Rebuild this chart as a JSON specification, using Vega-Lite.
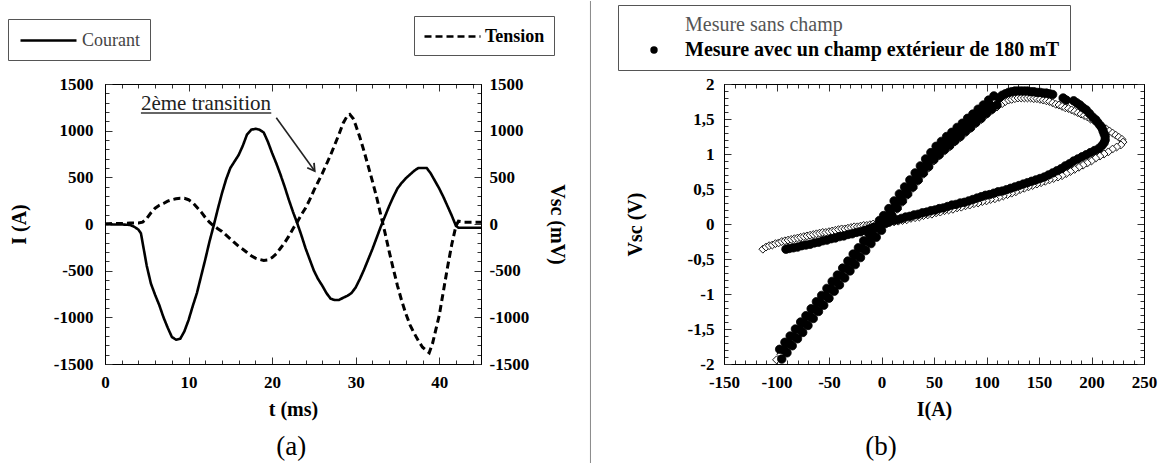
{
"$schema":"https://vega.github.io/schema/vega-lite/v6.json",
"background":"white",
"padding":{"left":7,"top":0,"right":0,"bottom":0},
"config":{
 "font":"Liberation Serif",
 "view":{"stroke":"black","strokeWidth":1},
 "axis":{"labelFont":"Liberation Serif","labelFontSize":17,"labelFontWeight":"bold","labelColor":"black","titleFont":"Liberation Serif","titleFontSize":20,"titleFontWeight":"bold","titleColor":"black","domainColor":"black","tickColor":"#333","grid":false,"labelOverlap":false,"labelFlush":false,"labelBound":false}
},
"datasets":{
 "courant":[{"t":0,"I":0},{"t":1,"I":-5},{"t":2,"I":-5},{"t":3,"I":-10},{"t":3.5,"I":-30},{"t":4,"I":-60},{"t":4.3,"I":-100},{"t":4.6,"I":-250},{"t":5,"I":-450},{"t":5.5,"I":-640},{"t":6,"I":-760},{"t":6.5,"I":-870},{"t":7,"I":-1000},{"t":7.5,"I":-1110},{"t":8,"I":-1210},{"t":8.5,"I":-1240},{"t":9,"I":-1230},{"t":9.5,"I":-1150},{"t":10,"I":-1030},{"t":10.5,"I":-880},{"t":11,"I":-740},{"t":11.5,"I":-560},{"t":12,"I":-380},{"t":12.5,"I":-190},{"t":13,"I":-20},{"t":13.5,"I":160},{"t":14,"I":330},{"t":14.5,"I":480},{"t":15,"I":600},{"t":15.5,"I":670},{"t":16,"I":740},{"t":16.5,"I":840},{"t":17,"I":960},{"t":17.5,"I":1010},{"t":18,"I":1020},{"t":18.5,"I":1010},{"t":19,"I":980},{"t":19.5,"I":880},{"t":20,"I":760},{"t":20.5,"I":650},{"t":21,"I":530},{"t":21.5,"I":400},{"t":22,"I":260},{"t":22.5,"I":130},{"t":23,"I":10},{"t":23.5,"I":-120},{"t":24,"I":-260},{"t":24.5,"I":-380},{"t":25,"I":-500},{"t":25.5,"I":-590},{"t":26,"I":-660},{"t":26.5,"I":-740},{"t":27,"I":-800},{"t":27.5,"I":-815},{"t":28,"I":-815},{"t":28.5,"I":-790},{"t":29,"I":-770},{"t":29.5,"I":-740},{"t":30,"I":-680},{"t":30.5,"I":-590},{"t":31,"I":-490},{"t":31.5,"I":-380},{"t":32,"I":-270},{"t":32.5,"I":-150},{"t":33,"I":-30},{"t":33.5,"I":80},{"t":34,"I":190},{"t":34.5,"I":290},{"t":35,"I":380},{"t":35.5,"I":440},{"t":36,"I":490},{"t":36.5,"I":530},{"t":37,"I":570},{"t":37.5,"I":600},{"t":38,"I":600},{"t":38.5,"I":600},{"t":39,"I":540},{"t":39.5,"I":460},{"t":40,"I":380},{"t":40.5,"I":290},{"t":41,"I":190},{"t":41.5,"I":90},{"t":42,"I":-20},{"t":42.3,"I":-40},{"t":43,"I":-40},{"t":44,"I":-40},{"t":45,"I":-40}],
 "tension":[{"t":0,"V":0},{"t":1,"V":5},{"t":2,"V":5},{"t":3,"V":10},{"t":4,"V":10},{"t":4.5,"V":20},{"t":5,"V":60},{"t":5.5,"V":120},{"t":6,"V":170},{"t":6.5,"V":200},{"t":7,"V":220},{"t":7.5,"V":245},{"t":8,"V":260},{"t":8.5,"V":270},{"t":9,"V":275},{"t":9.5,"V":275},{"t":10,"V":260},{"t":10.5,"V":230},{"t":11,"V":180},{"t":11.5,"V":130},{"t":12,"V":70},{"t":12.5,"V":20},{"t":13,"V":-20},{"t":13.5,"V":-50},{"t":14,"V":-80},{"t":14.5,"V":-120},{"t":15,"V":-160},{"t":15.5,"V":-200},{"t":16,"V":-240},{"t":16.5,"V":-270},{"t":17,"V":-305},{"t":17.5,"V":-340},{"t":18,"V":-365},{"t":18.5,"V":-380},{"t":19,"V":-390},{"t":19.5,"V":-385},{"t":20,"V":-360},{"t":20.5,"V":-320},{"t":21,"V":-260},{"t":21.5,"V":-200},{"t":22,"V":-130},{"t":22.5,"V":-50},{"t":23,"V":20},{"t":23.5,"V":100},{"t":24,"V":170},{"t":24.5,"V":260},{"t":25,"V":360},{"t":25.5,"V":450},{"t":26,"V":540},{"t":26.5,"V":640},{"t":27,"V":740},{"t":27.5,"V":850},{"t":28,"V":960},{"t":28.5,"V":1080},{"t":29,"V":1160},{"t":29.3,"V":1175},{"t":29.7,"V":1130},{"t":30,"V":1060},{"t":30.5,"V":930},{"t":31,"V":780},{"t":31.5,"V":620},{"t":32,"V":460},{"t":32.5,"V":290},{"t":33,"V":100},{"t":33.5,"V":-90},{"t":34,"V":-290},{"t":34.5,"V":-480},{"t":35,"V":-660},{"t":35.5,"V":-820},{"t":36,"V":-960},{"t":36.5,"V":-1080},{"t":37,"V":-1170},{"t":37.5,"V":-1250},{"t":38,"V":-1320},{"t":38.5,"V":-1360},{"t":38.8,"V":-1380},{"t":39.2,"V":-1280},{"t":39.6,"V":-1130},{"t":40,"V":-980},{"t":40.5,"V":-720},{"t":41,"V":-460},{"t":41.5,"V":-220},{"t":42,"V":-20},{"t":42.3,"V":30},{"t":43,"V":20},{"t":44,"V":20},{"t":45,"V":20}],
 "sans":[{"I":-113,"V":-0.36},{"I":-110,"V":-0.33},{"I":-107,"V":-0.31},{"I":-104,"V":-0.3},{"I":-101,"V":-0.28},{"I":-98,"V":-0.27},{"I":-95,"V":-0.25},{"I":-92,"V":-0.24},{"I":-89,"V":-0.23},{"I":-86,"V":-0.22},{"I":-83,"V":-0.21},{"I":-80,"V":-0.2},{"I":-77,"V":-0.19},{"I":-74,"V":-0.18},{"I":-71,"V":-0.17},{"I":-68,"V":-0.16},{"I":-65,"V":-0.15},{"I":-62,"V":-0.14},{"I":-59,"V":-0.13},{"I":-56,"V":-0.12},{"I":-53,"V":-0.12},{"I":-50,"V":-0.11},{"I":-47,"V":-0.1},{"I":-44,"V":-0.09},{"I":-41,"V":-0.08},{"I":-38,"V":-0.07},{"I":-35,"V":-0.07},{"I":-32,"V":-0.06},{"I":-29,"V":-0.05},{"I":-26,"V":-0.04},{"I":-23,"V":-0.04},{"I":-20,"V":-0.03},{"I":-17,"V":-0.02},{"I":-14,"V":-0.02},{"I":-11,"V":-0.01},{"I":-8,"V":0},{"I":-5,"V":0},{"I":-2,"V":0.01},
 {"I":-100,"V":-1.94},{"I":-96,"V":-1.86},{"I":-92,"V":-1.79},{"I":-88,"V":-1.71},{"I":-84,"V":-1.63},{"I":-80,"V":-1.56},{"I":-76,"V":-1.48},{"I":-72,"V":-1.4},{"I":-68,"V":-1.33},{"I":-64,"V":-1.25},{"I":-60,"V":-1.17},{"I":-56,"V":-1.1},{"I":-52,"V":-1.02},{"I":-48,"V":-0.94},{"I":-44,"V":-0.86},{"I":-40,"V":-0.79},{"I":-36,"V":-0.71},{"I":-32,"V":-0.63},{"I":-28,"V":-0.56},{"I":-24,"V":-0.48},{"I":-20,"V":-0.4},{"I":-16,"V":-0.33},{"I":-12,"V":-0.25},{"I":-8,"V":-0.17},{"I":-4,"V":-0.1},{"I":0,"V":-0.02},
 {"I":5,"V":0},{"I":10,"V":0.1},{"I":15,"V":0.21},{"I":20,"V":0.31},{"I":25,"V":0.41},{"I":30,"V":0.51},{"I":35,"V":0.61},{"I":40,"V":0.71},{"I":45,"V":0.8},{"I":50,"V":0.9},{"I":55,"V":0.97},{"I":60,"V":1.04},{"I":65,"V":1.1},{"I":70,"V":1.17},{"I":75,"V":1.23},{"I":80,"V":1.3},{"I":85,"V":1.36},{"I":90,"V":1.43},{"I":95,"V":1.49},{"I":100,"V":1.56},{"I":105,"V":1.62},{"I":110,"V":1.67},{"I":115,"V":1.72},
 {"I":118,"V":1.75},{"I":121,"V":1.77},{"I":124,"V":1.78},{"I":127,"V":1.79},{"I":130,"V":1.8},{"I":133,"V":1.8},{"I":136,"V":1.8},{"I":139,"V":1.8},{"I":142,"V":1.8},{"I":145,"V":1.79},{"I":148,"V":1.79},{"I":151,"V":1.78},{"I":154,"V":1.77},{"I":157,"V":1.76},{"I":160,"V":1.75},{"I":163,"V":1.73},{"I":166,"V":1.71},{"I":169,"V":1.7},{"I":172,"V":1.68},{"I":175,"V":1.66},{"I":178,"V":1.65},{"I":181,"V":1.63},{"I":184,"V":1.61},{"I":187,"V":1.59},{"I":190,"V":1.57},{"I":193,"V":1.55},{"I":196,"V":1.53},{"I":199,"V":1.5},{"I":202,"V":1.48},{"I":205,"V":1.45},{"I":208,"V":1.42},{"I":211,"V":1.39},{"I":214,"V":1.36},{"I":217,"V":1.33},{"I":220,"V":1.3},{"I":223,"V":1.27},{"I":226,"V":1.24},{"I":229,"V":1.21},{"I":230,"V":1.17},{"I":228,"V":1.13},
 {"I":224,"V":1.1},{"I":220,"V":1.07},{"I":216,"V":1.03},{"I":212,"V":1},{"I":208,"V":0.97},{"I":204,"V":0.94},{"I":200,"V":0.9},{"I":196,"V":0.87},{"I":192,"V":0.84},{"I":188,"V":0.81},{"I":184,"V":0.78},{"I":180,"V":0.75},{"I":176,"V":0.72},{"I":172,"V":0.69},{"I":168,"V":0.67},{"I":164,"V":0.65},{"I":160,"V":0.63},{"I":156,"V":0.61},{"I":152,"V":0.59},{"I":148,"V":0.57},{"I":144,"V":0.55},{"I":140,"V":0.53},{"I":136,"V":0.51},{"I":132,"V":0.49},{"I":128,"V":0.46},{"I":124,"V":0.44},{"I":120,"V":0.42},{"I":116,"V":0.4},{"I":112,"V":0.38},{"I":108,"V":0.36},{"I":104,"V":0.35},{"I":100,"V":0.33},{"I":96,"V":0.32},{"I":92,"V":0.3},{"I":88,"V":0.29},{"I":84,"V":0.27},{"I":80,"V":0.26},{"I":76,"V":0.24},{"I":72,"V":0.23},{"I":68,"V":0.21},{"I":64,"V":0.2},{"I":60,"V":0.19},{"I":56,"V":0.17},{"I":52,"V":0.16},{"I":48,"V":0.14},{"I":44,"V":0.13},{"I":40,"V":0.12},{"I":36,"V":0.1},{"I":32,"V":0.09},{"I":28,"V":0.08},{"I":24,"V":0.06},{"I":20,"V":0.05},{"I":16,"V":0.04},{"I":12,"V":0.03},{"I":8,"V":0.02},{"I":4,"V":0.01}],
 "avec":[{"I":-97,"V":-1.79},{"I":-92,"V":-1.69},{"I":-87,"V":-1.6},{"I":-82,"V":-1.5},{"I":-77,"V":-1.4},{"I":-72,"V":-1.31},{"I":-67,"V":-1.21},{"I":-62,"V":-1.11},{"I":-57,"V":-1.02},{"I":-52,"V":-0.92},{"I":-47,"V":-0.82},{"I":-42,"V":-0.73},{"I":-37,"V":-0.63},{"I":-32,"V":-0.53},{"I":-27,"V":-0.43},{"I":-22,"V":-0.34},{"I":-17,"V":-0.24},{"I":-12,"V":-0.14},{"I":-7,"V":-0.05},{"I":-2,"V":0.05},
 {"I":-95,"V":-1.93},{"I":-90,"V":-1.84},{"I":-85,"V":-1.74},{"I":-80,"V":-1.64},{"I":-75,"V":-1.55},{"I":-70,"V":-1.45},{"I":-65,"V":-1.35},{"I":-60,"V":-1.25},{"I":-55,"V":-1.16},{"I":-50,"V":-1.06},{"I":-45,"V":-0.96},{"I":-40,"V":-0.87},{"I":-35,"V":-0.77},{"I":-30,"V":-0.67},{"I":-25,"V":-0.58},{"I":-20,"V":-0.48},{"I":-15,"V":-0.38},{"I":-10,"V":-0.28},{"I":-5,"V":-0.19},{"I":0,"V":-0.09},
 {"I":-93,"V":-1.8},{"I":-88,"V":-1.71},{"I":-83,"V":-1.61},{"I":-78,"V":-1.51},{"I":-73,"V":-1.42},{"I":-68,"V":-1.32},{"I":-63,"V":-1.22},{"I":-58,"V":-1.13},{"I":-53,"V":-1.03},{"I":-48,"V":-0.93},{"I":-43,"V":-0.83},{"I":-38,"V":-0.74},{"I":-33,"V":-0.64},{"I":-28,"V":-0.54},{"I":-23,"V":-0.45},{"I":-18,"V":-0.35},{"I":-13,"V":-0.25},{"I":-8,"V":-0.16},{"I":-3,"V":-0.06},
 {"I":2,"V":0.12},{"I":7,"V":0.22},{"I":12,"V":0.33},{"I":17,"V":0.43},{"I":22,"V":0.53},{"I":27,"V":0.63},{"I":32,"V":0.73},{"I":37,"V":0.83},{"I":42,"V":0.93},{"I":47,"V":1.02},{"I":52,"V":1.11},{"I":57,"V":1.18},{"I":62,"V":1.25},{"I":67,"V":1.31},{"I":72,"V":1.38},{"I":77,"V":1.44},{"I":82,"V":1.51},{"I":87,"V":1.57},{"I":92,"V":1.64},{"I":97,"V":1.7},{"I":102,"V":1.77},{"I":107,"V":1.83},
 {"I":5,"V":0.02},{"I":10,"V":0.12},{"I":15,"V":0.23},{"I":20,"V":0.33},{"I":25,"V":0.43},{"I":30,"V":0.53},{"I":35,"V":0.63},{"I":40,"V":0.73},{"I":45,"V":0.82},{"I":50,"V":0.92},{"I":55,"V":0.99},{"I":60,"V":1.06},{"I":65,"V":1.12},{"I":70,"V":1.19},{"I":75,"V":1.25},{"I":80,"V":1.32},{"I":85,"V":1.38},{"I":90,"V":1.45},{"I":95,"V":1.51},{"I":100,"V":1.58},{"I":105,"V":1.64},{"I":110,"V":1.7},
 {"I":3.5,"V":0.07},{"I":8.5,"V":0.17},{"I":13.5,"V":0.27},{"I":18.5,"V":0.37},{"I":23.5,"V":0.47},{"I":28.5,"V":0.57},{"I":33.5,"V":0.67},{"I":38.5,"V":0.77},{"I":43.5,"V":0.87},{"I":48.5,"V":0.97},{"I":53.5,"V":1.05},{"I":58.5,"V":1.11},{"I":63.5,"V":1.18},{"I":68.5,"V":1.25},{"I":73.5,"V":1.31},{"I":78.5,"V":1.38},{"I":83.5,"V":1.45},{"I":88.5,"V":1.51},{"I":93.5,"V":1.58},{"I":98.5,"V":1.64},{"I":103.5,"V":1.7},
 {"I":112,"V":1.8},{"I":115,"V":1.84},{"I":118,"V":1.86},{"I":121,"V":1.88},{"I":124,"V":1.89},{"I":127,"V":1.9},{"I":130,"V":1.9},{"I":133,"V":1.9},{"I":136,"V":1.9},{"I":139,"V":1.9},{"I":142,"V":1.89},{"I":145,"V":1.89},{"I":148,"V":1.88},{"I":151,"V":1.88},{"I":154,"V":1.87},{"I":157,"V":1.87},{"I":160,"V":1.86},{"I":163,"V":1.85},
 {"I":173,"V":1.8},{"I":176,"V":1.77},{"I":183,"V":1.76},{"I":186,"V":1.73},{"I":189,"V":1.7},{"I":192,"V":1.66},{"I":195,"V":1.63},{"I":198,"V":1.58},{"I":201,"V":1.53},{"I":204,"V":1.49},{"I":206,"V":1.45},{"I":208,"V":1.41},{"I":210,"V":1.37},{"I":211,"V":1.33},{"I":212,"V":1.29},{"I":213,"V":1.25},{"I":213,"V":1.2},{"I":212,"V":1.16},{"I":210,"V":1.12},
 {"I":207,"V":1.08},{"I":203,"V":1.05},{"I":199,"V":1.02},{"I":195,"V":0.99},{"I":191,"V":0.96},{"I":187,"V":0.93},{"I":183,"V":0.9},{"I":179,"V":0.86},{"I":175,"V":0.83},{"I":171,"V":0.79},{"I":167,"V":0.76},{"I":163,"V":0.73},{"I":159,"V":0.7},{"I":155,"V":0.67},{"I":151,"V":0.65},{"I":147,"V":0.63},{"I":143,"V":0.61},{"I":139,"V":0.59},{"I":135,"V":0.57},{"I":131,"V":0.55},{"I":127,"V":0.53},{"I":123,"V":0.51},{"I":119,"V":0.49},{"I":115,"V":0.47},{"I":111,"V":0.46},{"I":107,"V":0.44},{"I":103,"V":0.42},{"I":99,"V":0.41},{"I":95,"V":0.39},{"I":91,"V":0.37},{"I":87,"V":0.35},{"I":83,"V":0.33},{"I":79,"V":0.31},{"I":75,"V":0.3},{"I":71,"V":0.28},{"I":67,"V":0.27},{"I":63,"V":0.25},{"I":59,"V":0.23},{"I":55,"V":0.22},{"I":51,"V":0.2},{"I":47,"V":0.19},{"I":43,"V":0.17},{"I":39,"V":0.16},{"I":35,"V":0.14},{"I":31,"V":0.13},{"I":27,"V":0.11},{"I":23,"V":0.1},{"I":19,"V":0.08},{"I":15,"V":0.06},{"I":11,"V":0.05},{"I":7,"V":0.03},{"I":3,"V":0.01},
 {"I":-4,"V":-0.03},{"I":-8,"V":-0.05},{"I":-12,"V":-0.07},{"I":-16,"V":-0.09},{"I":-20,"V":-0.11},{"I":-24,"V":-0.12},{"I":-28,"V":-0.14},{"I":-32,"V":-0.15},{"I":-36,"V":-0.17},{"I":-40,"V":-0.18},{"I":-44,"V":-0.2},{"I":-48,"V":-0.21},{"I":-52,"V":-0.23},{"I":-56,"V":-0.24},{"I":-60,"V":-0.26},{"I":-64,"V":-0.27},{"I":-68,"V":-0.29},{"I":-72,"V":-0.3},{"I":-76,"V":-0.31},{"I":-80,"V":-0.33},{"I":-84,"V":-0.34},{"I":-88,"V":-0.35},{"I":-91,"V":-0.36}]
},
"spacing":243,
"bounds":"flush",
"resolve":{"scale":{"strokeDash":"independent","shape":"independent","fill":"independent"},"legend":{"strokeDash":"independent","shape":"independent","fill":"independent"}},
"hconcat":[
 {
  "width":376,"height":280,
  "resolve":{"scale":{"y":"independent","strokeDash":"independent"},"legend":{"strokeDash":"independent"}},
  "layer":[
   {"data":{"name":"courant"},
    "mark":{"type":"line","color":"black","strokeWidth":2.6},
    "encoding":{
     "x":{"field":"t","type":"quantitative","scale":{"domain":[0,45],"nice":false},
      "axis":{"orient":"bottom","title":"t (ms)","values":[0,2,4,6,8,10,12,14,16,18,20,22,24,26,28,30,32,34,36,38,40,42,44],"labelExpr":"datum.value % 10 === 0 ? toString(datum.value) : ''","tickSize":{"condition":{"test":"datum.value % 10 === 0","value":-7},"value":-4},"labelPadding":17,"titlePadding":6}},
     "y":{"field":"I","type":"quantitative","scale":{"domain":[-1500,1500],"nice":false},
      "axis":{"orient":"left","title":"I (A)","values":[-1500,-1400,-1300,-1200,-1100,-1000,-900,-800,-700,-600,-500,-400,-300,-200,-100,0,100,200,300,400,500,600,700,800,900,1000,1100,1200,1300,1400,1500],"labelExpr":"datum.value % 500 === 0 ? toString(datum.value) : ''","tickSize":{"condition":{"test":"datum.value % 500 === 0","value":-7},"value":-4},"labelPadding":19,"titlePadding":24}},
     "strokeDash":{"datum":"Courant","scale":{"domain":["Courant"],"range":[[1,0]]},
      "legend":{"orient":"none","legendX":-97,"legendY":-65,"title":null,"strokeColor":"#555","padding":10,"symbolType":"M-2.8,0L2.8,0","symbolSize":400,"symbolOffset":19,"symbolStrokeWidth":2.6,"symbolStrokeColor":"black","labelFont":"Liberation Serif","labelFontSize":18,"labelFontWeight":"normal","labelColor":"#444","labelOffset":22}}
    }},
   {"data":{"name":"tension"},
    "mark":{"type":"line","color":"black","strokeWidth":3},
    "encoding":{
     "x":{"field":"t","type":"quantitative","scale":{"domain":[0,45],"nice":false},
      "axis":{"orient":"top","title":null,"labels":false,"values":[0,2,4,6,8,10,12,14,16,18,20,22,24,26,28,30,32,34,36,38,40,42,44],"tickSize":{"condition":{"test":"datum.value % 10 === 0","value":-7},"value":-4}}},
     "y":{"field":"V","type":"quantitative","scale":{"domain":[-1500,1500],"nice":false},
      "axis":{"orient":"right","title":"Vsc (mV)","values":[-1500,-1400,-1300,-1200,-1100,-1000,-900,-800,-700,-600,-500,-400,-300,-200,-100,0,100,200,300,400,500,600,700,800,900,1000,1100,1200,1300,1400,1500],"labelExpr":"datum.value % 500 === 0 ? toString(datum.value) : ''","tickSize":{"condition":{"test":"datum.value % 500 === 0","value":-7},"value":-4},"labelPadding":15,"titlePadding":18}},
     "strokeDash":{"datum":"Tension","scale":{"domain":["Tension"],"range":[[7,4]]},
      "legend":{"orient":"none","legendX":309,"legendY":-68,"title":null,"strokeColor":"#555","padding":9,"symbolType":"M-2.8,0L2.8,0","symbolSize":400,"symbolOffset":18,"symbolStrokeWidth":2.6,"symbolStrokeColor":"black","labelFont":"Liberation Serif","labelFontSize":18,"labelFontWeight":"bold","labelColor":"black","labelOffset":21}}
    }},
   {"data":{"values":[{"t":4.3,"v":1218,"label":"2ème transition"}]},
    "mark":{"type":"text","align":"left","baseline":"alphabetic","font":"Liberation Serif","fontSize":21,"color":"#222"},
    "encoding":{"x":{"field":"t","type":"quantitative","scale":{"domain":[0,45],"nice":false},"axis":null},"y":{"field":"v","type":"quantitative","scale":{"domain":[-1500,1500],"nice":false},"axis":null},"text":{"field":"label"}}},
   {"data":{"values":[{"t":4.3,"t2":19.9,"v":1190}]},
    "mark":{"type":"rule","color":"#333","strokeWidth":1.6},
    "encoding":{"x":{"field":"t","type":"quantitative","scale":{"domain":[0,45],"nice":false},"axis":null},"x2":{"field":"t2"},"y":{"field":"v","type":"quantitative","scale":{"domain":[-1500,1500],"nice":false},"axis":null}}},
   {"data":{"values":[{"t":20.5,"v":1139,"t2":25.1,"v2":568}]},
    "mark":{"type":"rule","color":"#222","strokeWidth":1.6},
    "encoding":{"x":{"field":"t","type":"quantitative","scale":{"domain":[0,45],"nice":false},"axis":null},"x2":{"field":"t2"},"y":{"field":"v","type":"quantitative","scale":{"domain":[-1500,1500],"nice":false},"axis":null},"y2":{"field":"v2"}}},
   {"data":{"values":[{"t":25.1,"v":568}]},
    "mark":{"type":"point","shape":"M-0.6,1L0,0L0.6,1","size":196,"angle":144,"filled":false,"stroke":"#222","strokeWidth":1.8,"opacity":1},
    "encoding":{"x":{"field":"t","type":"quantitative","scale":{"domain":[0,45],"nice":false},"axis":null},"y":{"field":"v","type":"quantitative","scale":{"domain":[-1500,1500],"nice":false},"axis":null}}},
   {"data":{"values":[{"t":22.3,"v":-2475,"label":"(a)"}]},
    "mark":{"type":"text","align":"center","baseline":"alphabetic","font":"Liberation Serif","fontSize":27,"color":"black"},
    "encoding":{"x":{"field":"t","type":"quantitative","scale":{"domain":[0,45],"nice":false},"axis":null},"y":{"field":"v","type":"quantitative","scale":{"domain":[-1500,1500],"nice":false},"axis":null},"text":{"field":"label"}}},
   {"data":{"values":[{"t":58.1,"v":2389,"v2":-2571}]},
    "mark":{"type":"rule","color":"#888","strokeWidth":1},
    "encoding":{"x":{"field":"t","type":"quantitative","scale":{"domain":[0,45],"nice":false},"axis":null},"y":{"field":"v","type":"quantitative","scale":{"domain":[-1500,1500],"nice":false},"axis":null},"y2":{"field":"v2"}}}
  ]
 },
 {
  "width":420,"height":280,
  "layer":[
   {"data":{"name":"sans"},
    "mark":{"type":"point","filled":true,"stroke":"black","strokeWidth":0.9,"size":62,"opacity":1},
    "encoding":{
     "x":{"field":"I","type":"quantitative","scale":{"domain":[-150,250],"nice":false},
      "axis":{"orient":"bottom","title":"I(A)","values":[-150,-140,-130,-120,-110,-100,-90,-80,-70,-60,-50,-40,-30,-20,-10,0,10,20,30,40,50,60,70,80,90,100,110,120,130,140,150,160,170,180,190,200,210,220,230,240,250],"labelExpr":"datum.value % 50 === 0 ? toString(datum.value) : ''","tickSize":{"condition":{"test":"datum.value % 50 === 0","value":-7},"value":-4},"labelPadding":17,"titlePadding":6}},
     "y":{"field":"V","type":"quantitative","scale":{"domain":[-2,2],"nice":false},
      "axis":{"orient":"left","title":"Vsc (V)","values":[-2,-1.9,-1.8,-1.7,-1.6,-1.5,-1.4,-1.3,-1.2,-1.1,-1,-0.9,-0.8,-0.7,-0.6,-0.5,-0.4,-0.3,-0.2,-0.1,0,0.1,0.2,0.3,0.4,0.5,0.6,0.7,0.8,0.9,1,1.1,1.2,1.3,1.4,1.5,1.6,1.7,1.8,1.9,2],"labelExpr":"abs(datum.value*2 - round(datum.value*2)) < 0.001 ? replace(toString(datum.value), '.', ',') : ''","tickSize":{"condition":{"test":"abs(datum.value*2 - round(datum.value*2)) < 0.001","value":-7},"value":-4},"labelPadding":17,"titlePadding":42}},
     "shape":{"datum":"Mesure sans champ","scale":{"domain":["Mesure sans champ","Mesure avec un champ extérieur de 180 mT"],"range":["diamond","circle"]},
      "legend":{"orient":"none","legendX":-106,"legendY":-79,"title":null,"strokeColor":"#555","padding":10,"symbolOffset":16,"symbolSize":55,"symbolStrokeColor":"black","symbolStrokeWidth":1,"labelFont":"Liberation Serif","labelFontSize":20,"labelLimit":0,"labelOffset":21,"rowPadding":5,"labelFontWeight":{"expr":"datum.label === 'Mesure sans champ' ? 'normal' : 'bold'"},"labelColor":{"expr":"datum.label === 'Mesure sans champ' ? '#555' : 'black'"}}},
     "fill":{"datum":"Mesure sans champ","scale":{"domain":["Mesure sans champ","Mesure avec un champ extérieur de 180 mT"],"range":["white","black"]},
      "legend":{"orient":"none","legendX":-106,"legendY":-79,"title":null,"strokeColor":"#555","padding":10,"symbolOffset":16,"symbolSize":55,"symbolStrokeColor":"black","symbolStrokeWidth":1,"labelFont":"Liberation Serif","labelFontSize":20,"labelLimit":0,"labelOffset":21,"rowPadding":5,"labelFontWeight":{"expr":"datum.label === 'Mesure sans champ' ? 'normal' : 'bold'"},"labelColor":{"expr":"datum.label === 'Mesure sans champ' ? '#555' : 'black'"}}}
    }},
   {"data":{"name":"avec"},
    "mark":{"type":"point","filled":true,"stroke":"black","strokeWidth":0.8,"size":72,"opacity":1},
    "encoding":{
     "x":{"field":"I","type":"quantitative","scale":{"domain":[-150,250],"nice":false},
      "axis":{"orient":"top","title":null,"labels":false,"values":[-150,-140,-130,-120,-110,-100,-90,-80,-70,-60,-50,-40,-30,-20,-10,0,10,20,30,40,50,60,70,80,90,100,110,120,130,140,150,160,170,180,190,200,210,220,230,240,250],"tickSize":{"condition":{"test":"datum.value % 50 === 0","value":-7},"value":-4}}},
     "y":{"field":"V","type":"quantitative","scale":{"domain":[-2,2],"nice":false},
      "axis":{"orient":"right","title":null,"labels":false,"values":[-2,-1.9,-1.8,-1.7,-1.6,-1.5,-1.4,-1.3,-1.2,-1.1,-1,-0.9,-0.8,-0.7,-0.6,-0.5,-0.4,-0.3,-0.2,-0.1,0,0.1,0.2,0.3,0.4,0.5,0.6,0.7,0.8,0.9,1,1.1,1.2,1.3,1.4,1.5,1.6,1.7,1.8,1.9,2],"tickSize":{"condition":{"test":"abs(datum.value*2 - round(datum.value*2)) < 0.001","value":-7},"value":-4}}},
     "shape":{"datum":"Mesure avec un champ extérieur de 180 mT","scale":{"domain":["Mesure sans champ","Mesure avec un champ extérieur de 180 mT"],"range":["diamond","circle"]},
      "legend":{"orient":"none","legendX":-106,"legendY":-79,"title":null,"strokeColor":"#555","padding":10,"symbolOffset":16,"symbolSize":55,"symbolStrokeColor":"black","symbolStrokeWidth":1,"labelFont":"Liberation Serif","labelFontSize":20,"labelLimit":0,"labelOffset":21,"rowPadding":5,"labelFontWeight":{"expr":"datum.label === 'Mesure sans champ' ? 'normal' : 'bold'"},"labelColor":{"expr":"datum.label === 'Mesure sans champ' ? '#555' : 'black'"}}},
     "fill":{"datum":"Mesure avec un champ extérieur de 180 mT","scale":{"domain":["Mesure sans champ","Mesure avec un champ extérieur de 180 mT"],"range":["white","black"]},
      "legend":{"orient":"none","legendX":-106,"legendY":-79,"title":null,"strokeColor":"#555","padding":10,"symbolOffset":16,"symbolSize":55,"symbolStrokeColor":"black","symbolStrokeWidth":1,"labelFont":"Liberation Serif","labelFontSize":20,"labelLimit":0,"labelOffset":21,"rowPadding":5,"labelFontWeight":{"expr":"datum.label === 'Mesure sans champ' ? 'normal' : 'bold'"},"labelColor":{"expr":"datum.label === 'Mesure sans champ' ? '#555' : 'black'"}}}
    }},
   {"data":{"values":[{"I":-0.5,"V":-3.3,"label":"(b)"}]},
    "mark":{"type":"text","align":"center","baseline":"alphabetic","font":"Liberation Serif","fontSize":27,"color":"black"},
    "encoding":{"x":{"field":"I","type":"quantitative","scale":{"domain":[-150,250],"nice":false},"axis":null},"y":{"field":"V","type":"quantitative","scale":{"domain":[-2,2],"nice":false},"axis":null},"text":{"field":"label"}}}
  ]
 }
]
}
